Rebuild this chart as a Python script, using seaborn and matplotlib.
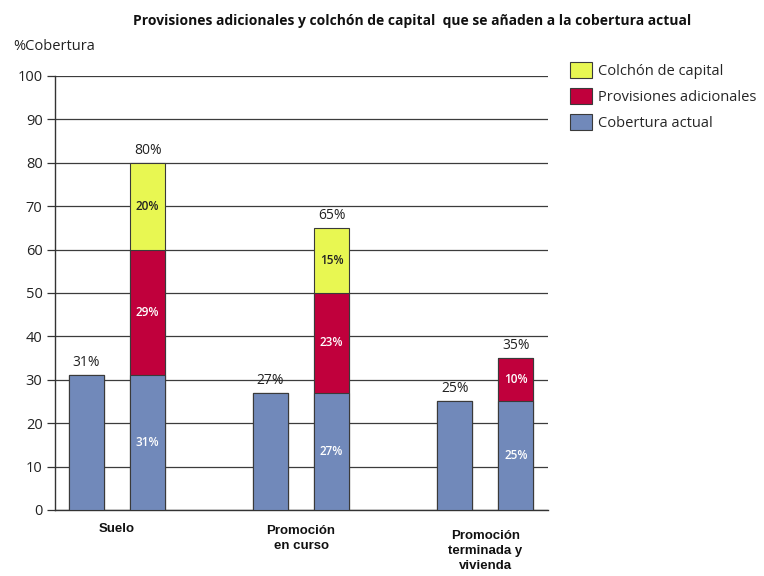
import matplotlib
matplotlib.use("Agg")
import matplotlib.pyplot as plt
import matplotlib.transforms as mtransforms
from matplotlib.patches import Patch
import seaborn as sns
import pandas as pd
import numpy as np

categories = ["Suelo", "Promoción\nen curso", "Promoción\nterminada y\nvivienda"]
cobertura_actual = [31, 27, 25]
provisiones_adicionales = [29, 23, 10]
colchon_capital = [20, 15, 0]
totales = [80, 65, 35]

title = "Provisiones adicionales y colchón de capital  que se añaden a la cobertura actual"
ylabel = "%Cobertura"
legend_labels = ["Colchón de capital", "Provisiones adicionales", "Cobertura actual"]

c_blue = "#7189BA"
c_red = "#C0003C"
c_yellow = "#E8F752"
edge = "#3A3A3A"

sns.set_theme(style="white")
plt.rcParams["font.family"] = ["Open Sans", "DejaVu Sans"]

fig = plt.figure(figsize=(7.64, 5.76), dpi=100)
ax = fig.add_axes([0.072, 0.1146, 0.645, 0.7535])

kinds = ["single", "stack"]
cob = np.array(cobertura_actual)
prov = np.array(provisiones_adicionales)
col = np.array(colchon_capital)

def frame(single_vals, stack_vals):
    rows = []
    for i, c in enumerate(categories):
        rows.append({"cat": c, "kind": "single", "val": single_vals[i]})
        rows.append({"cat": c, "kind": "stack", "val": stack_vals[i]})
    return pd.DataFrame(rows)

layers = [
    (frame(cob, cob + prov + col), {"single": c_blue, "stack": c_yellow}),
    (frame(cob, cob + prov), {"single": c_blue, "stack": c_red}),
    (frame(cob, cob), {"single": c_blue, "stack": c_blue}),
]
for df, pal in layers:
    sns.barplot(data=df, x="cat", y="val", hue="kind", hue_order=kinds,
                order=categories, palette=pal, width=0.664, gap=0.43,
                saturation=1, edgecolor=edge, linewidth=0.8, errorbar=None,
                legend=False, ax=ax, zorder=3)

ax.set_ylim(0, 100)
ax.set_xlim(-0.337, 2.34)
ax.set_yticks(range(0, 101, 10))
ax.yaxis.grid(True, color="#3c3c3c", linewidth=0.9, zorder=0)
ax.set_axisbelow(True)
for s in ["top", "right"]:
    ax.spines[s].set_visible(False)
for s in ["left", "bottom"]:
    ax.spines[s].set_color("#333333")
    ax.spines[s].set_linewidth(1.0)
ax.tick_params(axis="y", which="major", length=6, width=0.9, color="#333333",
               left=True, labelsize=10.5, labelcolor="#222222", pad=3)
ax.tick_params(axis="x", length=0)
ax.set_xlabel("")
ax.set_ylabel("")
ax.set_xticks([])

# Category labels
offsets_y = [-0.03, -0.035, -0.045]
for i, c in enumerate(categories):
    ax.text(i, offsets_y[i], c, transform=mtransforms.blended_transform_factory(ax.transData, ax.transAxes),
            ha="center", va="top", fontsize=9.5, fontweight="bold",
            family=["Liberation Sans", "DejaVu Sans"], linespacing=1.35, color="#111111")

# Value labels
off = 0.166
for i in range(len(categories)):
    ax.text(i - off, cob[i] + 1.2, f"{cob[i]}%", ha="center", va="bottom", fontsize=10, color="#222222")
    ax.text(i + off, totales[i] + 1.2, f"{totales[i]}%", ha="center", va="bottom", fontsize=10, color="#222222")
    ax.text(i + off, cob[i] / 2, f"{cob[i]}%", ha="center", va="center", fontsize=8.5,
            fontweight="semibold", color="white", zorder=5)
    ax.text(i + off, cob[i] + prov[i] / 2, f"{prov[i]}%", ha="center", va="center", fontsize=8.5,
            fontweight="semibold", color="white", zorder=5)
    if col[i] > 0:
        ax.text(i + off, cob[i] + prov[i] + col[i] / 2, f"{col[i]}%", ha="center", va="center",
                fontsize=8.5, fontweight="semibold", color="#222222", zorder=5)

fig.text(0.54, 0.963, title, ha="center", va="center", fontsize=10, fontweight="bold", color="#111111")
fig.text(0.017, 0.92, ylabel, ha="left", va="center", fontsize=10.5, color="#222222")

handles = [Patch(facecolor=c_yellow, edgecolor=edge, linewidth=0.8),
           Patch(facecolor=c_red, edgecolor=edge, linewidth=0.8),
           Patch(facecolor=c_blue, edgecolor=edge, linewidth=0.8)]
fig.legend(handles, legend_labels, loc="upper left", bbox_to_anchor=(0.738, 0.902),
           frameon=False, fontsize=10.5, handlelength=1.5, handleheight=1.3,
           handletextpad=0.45, labelspacing=0.62, borderaxespad=0)

fig.savefig("out.png", dpi=100)
